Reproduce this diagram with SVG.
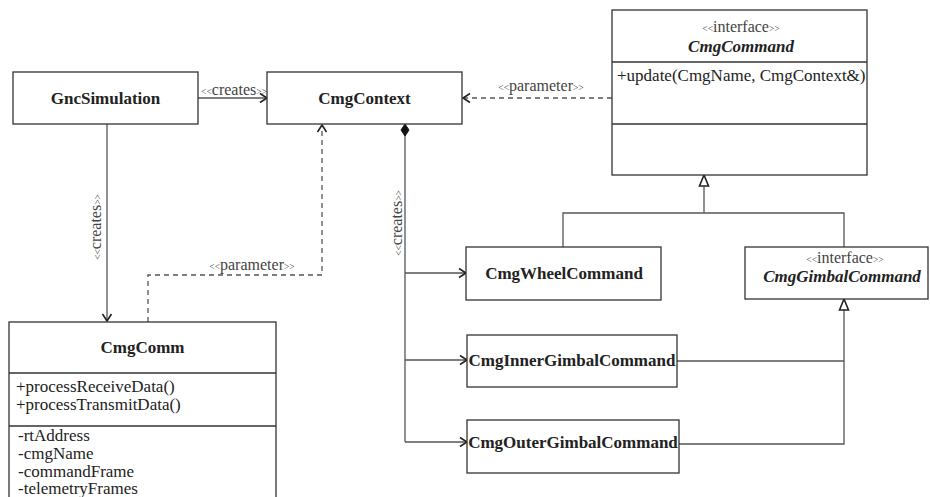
<svg xmlns="http://www.w3.org/2000/svg" width="930" height="497" viewBox="0 0 930 497">
<defs>
<style>
.box{fill:#fff;stroke:#333;stroke-width:1.3}
.ln{fill:none;stroke:#555;stroke-width:1.3}
.dash{fill:none;stroke:#555;stroke-width:1.3;stroke-dasharray:5,4}
text{font-family:'Liberation Serif','DejaVu Serif',serif;fill:#222}
.b{font-weight:bold;font-size:17px}
.bi{font-weight:bold;font-style:italic;font-size:17px}
.r{font-size:17px}
.lab{font-size:16px;fill:#444}
.sm{font-size:9.5px}
</style>
<marker id="open" markerWidth="12" markerHeight="12" refX="10" refY="6" orient="auto" markerUnits="userSpaceOnUse">
<path d="M3,1.5 L10,6 L3,10.5" fill="none" stroke="#222" stroke-width="1.6"/>
</marker>
<marker id="tri" markerWidth="14" markerHeight="14" refX="12" refY="7" orient="auto" markerUnits="userSpaceOnUse">
<path d="M1,2.5 L12,7 L1,11.5 Z" fill="#fff" stroke="#222" stroke-width="1.6"/>
</marker>
<marker id="dia" markerWidth="16" markerHeight="12" refX="1" refY="5" orient="auto" markerUnits="userSpaceOnUse">
<path d="M1,5 L7,1 L13,5 L7,9 Z" fill="#111" stroke="#111" stroke-width="1"/>
</marker>
</defs>
<rect width="930" height="497" fill="#fff"/>

<g id="connectors" font-family="'Liberation Serif','DejaVu Serif',serif">
<line class="ln" x1="198" y1="98" x2="267" y2="98" marker-end="url(#open)"/>
<text class="lab" x="234" y="95" text-anchor="middle"><tspan class="sm">&lt;&lt;</tspan>creates<tspan class="sm">&gt;&gt;</tspan></text>
<line class="dash" x1="612" y1="98" x2="463" y2="98" marker-end="url(#open)"/>
<text class="lab" x="541" y="91" text-anchor="middle"><tspan class="sm">&lt;&lt;</tspan>parameter<tspan class="sm">&gt;&gt;</tspan></text>
<line class="ln" x1="107" y1="124" x2="107" y2="321" marker-end="url(#open)"/>
<text class="lab" transform="translate(101,227) rotate(-90)" text-anchor="middle"><tspan class="sm">&lt;&lt;</tspan>creates<tspan class="sm">&gt;&gt;</tspan></text>
<polyline class="dash" points="148,322 148,275 322,275 322,125" marker-end="url(#open)"/>
<text class="lab" x="252" y="270" text-anchor="middle"><tspan class="sm">&lt;&lt;</tspan>parameter<tspan class="sm">&gt;&gt;</tspan></text>
<polyline class="ln" points="405,124 405,442" marker-start="url(#dia)"/>
<line class="ln" x1="405" y1="273" x2="466" y2="273" marker-end="url(#open)"/>
<line class="ln" x1="405" y1="360" x2="467" y2="360" marker-end="url(#open)"/>
<line class="ln" x1="405" y1="442" x2="467" y2="442" marker-end="url(#open)"/>
<text class="lab" transform="translate(402,223) rotate(-90)" text-anchor="middle"><tspan class="sm">&lt;&lt;</tspan>creates<tspan class="sm">&gt;&gt;</tspan></text>
<polyline class="ln" points="563,247 563,213 844,213 844,247"/>
<line class="ln" x1="704" y1="213" x2="704" y2="175" marker-end="url(#tri)"/>
<polyline class="ln" points="677,361 844,361"/>
<polyline class="ln" points="679,444 844,444 844,299" marker-end="url(#tri)"/>
</g>

<g id="GncSimulation" font-family="'Liberation Serif','DejaVu Serif',serif">
<rect class="box" x="13" y="72" width="185" height="52"/>
<text class="b" x="105.5" y="104" text-anchor="middle">GncSimulation</text>
</g>

<g id="CmgContext" font-family="'Liberation Serif','DejaVu Serif',serif">
<rect class="box" x="267" y="72" width="195" height="52"/>
<text class="b" x="364.5" y="104" text-anchor="middle">CmgContext</text>
</g>

<g id="CmgCommand" font-family="'Liberation Serif','DejaVu Serif',serif">
<rect class="box" x="612" y="10" width="255" height="165"/>
<line class="box" x1="612" y1="62" x2="867" y2="62"/>
<line class="box" x1="612" y1="124" x2="867" y2="124"/>
<text class="lab" x="741" y="32" text-anchor="middle"><tspan class="sm">&lt;&lt;</tspan>interface<tspan class="sm">&gt;&gt;</tspan></text>
<text class="bi" x="741" y="52" text-anchor="middle">CmgCommand</text>
<text class="r" x="617" y="81">+update(CmgName, CmgContext&amp;)</text>
</g>

<g id="CmgComm" font-family="'Liberation Serif','DejaVu Serif',serif">
<rect class="box" x="9" y="322" width="267" height="190"/>
<line class="box" x1="9" y1="373" x2="276" y2="373"/>
<line class="box" x1="9" y1="426" x2="276" y2="426"/>
<text class="b" x="142.5" y="353" text-anchor="middle">CmgComm</text>
<text class="r" x="16" y="392">+processReceiveData()</text>
<text class="r" x="16" y="410">+processTransmitData()</text>
<text class="r" x="18" y="441">-rtAddress</text>
<text class="r" x="18" y="459">-cmgName</text>
<text class="r" x="18" y="477">-commandFrame</text>
<text class="r" x="18" y="494">-telemetryFrames</text>
</g>

<g id="CmgWheelCommand" font-family="'Liberation Serif','DejaVu Serif',serif">
<rect class="box" x="466" y="247" width="195" height="53"/>
<text class="b" x="564" y="279" text-anchor="middle">CmgWheelCommand</text>
</g>

<g id="CmgGimbalCommand" font-family="'Liberation Serif','DejaVu Serif',serif">
<rect class="box" x="745" y="247" width="183" height="52"/>
<text class="lab" x="845" y="263" text-anchor="middle"><tspan class="sm">&lt;&lt;</tspan>interface<tspan class="sm">&gt;&gt;</tspan></text>
<text class="bi" x="842" y="282" text-anchor="middle">CmgGimbalCommand</text>
</g>

<g id="CmgInnerGimbalCommand" font-family="'Liberation Serif','DejaVu Serif',serif">
<rect class="box" x="467" y="335" width="210" height="52"/>
<text class="b" x="572" y="366" text-anchor="middle">CmgInnerGimbalCommand</text>
</g>

<g id="CmgOuterGimbalCommand" font-family="'Liberation Serif','DejaVu Serif',serif">
<rect class="box" x="467" y="420" width="212" height="53"/>
<text class="b" x="573" y="448" text-anchor="middle">CmgOuterGimbalCommand</text>
</g>
</svg>
